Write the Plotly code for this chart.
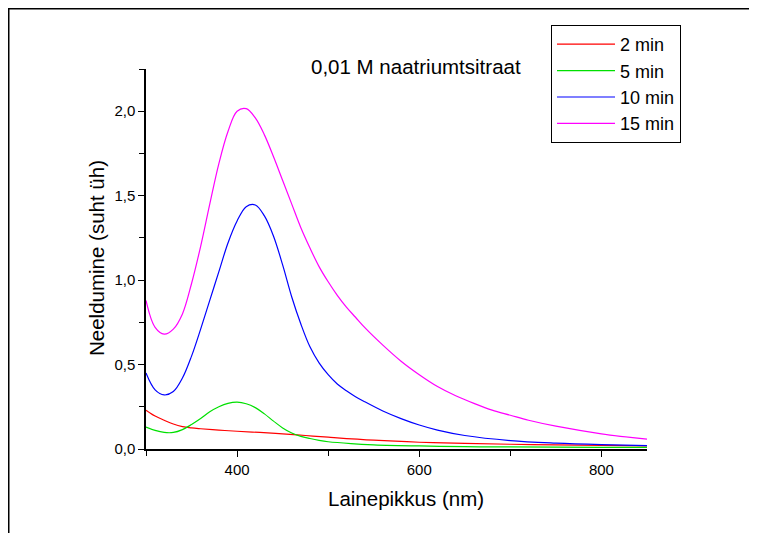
import plotly.graph_objects as go

# Wavelengths (nm) and absorbance for each series
wl_2 = [300, 310, 320, 330, 340, 350, 360, 380, 400, 425, 450, 475, 500, 550, 600, 650, 700, 750, 800, 850]
abs_2 = [0.23, 0.195, 0.17, 0.148, 0.133, 0.125, 0.12, 0.112, 0.105, 0.098, 0.09, 0.08, 0.07, 0.052, 0.04, 0.033, 0.028, 0.024, 0.021, 0.019]

wl_5 = [300, 310, 320, 330, 340, 350, 360, 370, 380, 390, 400, 410, 420, 430, 440, 450, 460, 470, 480, 490, 500, 525, 550, 600, 650, 700, 800, 850]
abs_5 = [0.13, 0.11, 0.098, 0.098, 0.115, 0.145, 0.18, 0.22, 0.25, 0.27, 0.277, 0.268, 0.245, 0.208, 0.165, 0.125, 0.095, 0.075, 0.062, 0.051, 0.043, 0.032, 0.025, 0.018, 0.014, 0.012, 0.01, 0.01]

wl_10 = [300, 310, 320, 330, 340, 350, 360, 370, 380, 390, 400, 410, 420, 430, 440, 450, 460, 470, 480, 490, 500, 510, 520, 530, 540, 560, 580, 600, 620, 650, 700, 750, 800, 850]
abs_10 = [0.45, 0.35, 0.32, 0.34, 0.42, 0.55, 0.71, 0.88, 1.05, 1.22, 1.35, 1.435, 1.445, 1.38, 1.26, 1.09, 0.90, 0.74, 0.605, 0.51, 0.44, 0.385, 0.345, 0.31, 0.28, 0.225, 0.18, 0.142, 0.112, 0.08, 0.05, 0.035, 0.026, 0.02]

wl_15 = [300, 310, 320, 330, 340, 350, 360, 370, 380, 390, 400, 410, 420, 430, 440, 450, 460, 470, 480, 490, 500, 510, 520, 530, 540, 560, 580, 600, 620, 640, 660, 680, 700, 720, 750, 800, 850]
abs_15 = [0.88, 0.72, 0.68, 0.71, 0.80, 0.98, 1.20, 1.45, 1.69, 1.88, 2.00, 2.015, 1.96, 1.86, 1.73, 1.59, 1.45, 1.31, 1.19, 1.08, 0.99, 0.91, 0.84, 0.78, 0.72, 0.615, 0.52, 0.44, 0.37, 0.315, 0.27, 0.23, 0.20, 0.17, 0.135, 0.09, 0.058]

series_names = ["2 min", "5 min", "10 min", "15 min"]
series_colors = ["#FF0000", "#00E000", "#0000FF", "#FF00FF"]

x_ticks = [400, 600, 800]
y_ticks = [0.0, 0.5, 1.0, 1.5, 2.0]

FONT = "Liberation Sans, Arial, sans-serif"

# page has an 8px body margin, so the figure is drawn 8px smaller and offset
W, H = 749, 525
L, T = 138, 61
PW, PH = 501, 380
R, B = W - L - PW, H - T - PH


def px(page_x):
    return (page_x - 8 - L) / PW


def py(page_y):
    return (T + PH - (page_y - 8)) / PH


fig = go.Figure()
for name, col, xs, ys in zip(series_names, series_colors,
                             [wl_2, wl_5, wl_10, wl_15],
                             [abs_2, abs_5, abs_10, abs_15]):
    fig.add_trace(go.Scatter(x=xs, y=ys, mode="lines", name=name,
                             line=dict(color=col, width=1.2, shape="spline", smoothing=1.0)))

fig.update_layout(
    width=W, height=H,
    margin=dict(l=L, r=R, t=T, b=B, autoexpand=False),
    paper_bgcolor="white", plot_bgcolor="white",
    separators=", ",
    font=dict(family=FONT, color="black", size=15),
    showlegend=True,
    legend=dict(x=px(551), y=py(25), xanchor="left", yanchor="top",
                bordercolor="black", borderwidth=1, bgcolor="white",
                font=dict(size=18, family=FONT), tracegroupgap=0,
                itemwidth=58),
    xaxis=dict(range=[300, 850], showgrid=False, zeroline=False,
               showline=True, linecolor="black", linewidth=1.5,
               ticks="outside", ticklen=6, tickwidth=1, tickcolor="black",
               tickvals=x_ticks, tickfont=dict(size=15),
               minor=dict(tickvals=[300, 500, 700], ticks="outside", ticklen=5, tickcolor="black")),
    yaxis=dict(range=[0, 2.25], showgrid=False, zeroline=False,
               showline=True, linecolor="black", linewidth=1.5,
               ticks="outside", ticklen=6, tickwidth=1, tickcolor="black",
               tickvals=y_ticks, tickformat=".1f", tickfont=dict(size=15),
               minor=dict(tickvals=[0.25, 0.75, 1.25, 1.75, 2.25], ticks="outside", ticklen=5, tickcolor="black")),
    shapes=[dict(type="rect", xref="paper", yref="paper",
                 x0=(0.75 - L) / PW, x1=1.6, y0=-0.5, y1=(T + PH - 0.75) / PH,
                 line=dict(color="black", width=1.5), layer="below")],
    annotations=[
        dict(text="0,01 M naatriumtsitraat", xref="paper", yref="paper",
             x=px(416), y=py(66), xanchor="center", yanchor="middle", showarrow=False,
             font=dict(size=20.5, family=FONT)),
        dict(text="Lainepikkus (nm)", xref="paper", yref="paper",
             x=px(406), y=py(498), xanchor="center", yanchor="middle", showarrow=False,
             font=dict(size=20.5, family=FONT)),
        dict(text="Neeldumine (suht üh)", xref="paper", yref="paper",
             x=px(96), y=py(258), xanchor="center", yanchor="middle", showarrow=False,
             textangle=-90, font=dict(size=20.5, family=FONT)),
    ],
)

fig.write_html("out.html")
